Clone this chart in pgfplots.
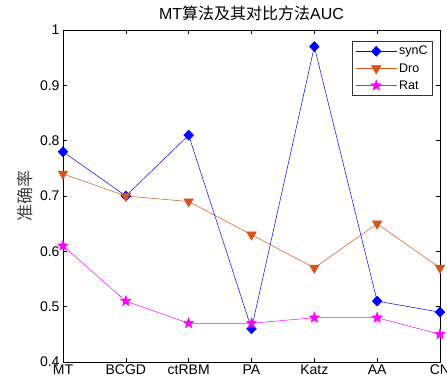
\documentclass[border=0pt]{standalone}
\usepackage{pgfplots}
\pgfplotsset{compat=1.18}
\usepackage{fontspec}
\setmainfont{Liberation Sans}
\newfontfamily\cjk{Noto Sans CJK SC}
\definecolor{mblue}{rgb}{0,0,1}
\definecolor{morange}{rgb}{0.85,0.325,0.098}
\definecolor{mmag}{rgb}{1,0,1}
\pgfdeclareplotmark{fstar}{%
  \pgfpathmoveto{\pgfpointpolar{90}{\pgfplotmarksize}}%
  \pgfpathlineto{\pgfpointpolar{126}{0.42\pgfplotmarksize}}%
  \pgfpathlineto{\pgfpointpolar{162}{\pgfplotmarksize}}%
  \pgfpathlineto{\pgfpointpolar{198}{0.42\pgfplotmarksize}}%
  \pgfpathlineto{\pgfpointpolar{234}{\pgfplotmarksize}}%
  \pgfpathlineto{\pgfpointpolar{270}{0.42\pgfplotmarksize}}%
  \pgfpathlineto{\pgfpointpolar{306}{\pgfplotmarksize}}%
  \pgfpathlineto{\pgfpointpolar{342}{0.42\pgfplotmarksize}}%
  \pgfpathlineto{\pgfpointpolar{18}{\pgfplotmarksize}}%
  \pgfpathlineto{\pgfpointpolar{54}{0.42\pgfplotmarksize}}%
  \pgfpathclose\pgfusepathqfillstroke}
\begin{document}
\begin{tikzpicture}
\begin{axis}[
  at={(0,0)}, anchor=south west,
  scale only axis, width=377pt, height=332pt,
  xmin=0, xmax=6, ymin=0.4, ymax=1,
  xtick={0,1,2,3,4,5,6},
  xticklabels={MT,BCGD,ctRBM,PA,Katz,AA,CN},
  ytick={0.4,0.5,0.6,0.7,0.8,0.9,1},
  yticklabels={0.4,0.5,0.6,0.7,0.8,0.9,1},
  tick align=inside, major tick length=4pt,
  tick style={black, line width=0.5pt},
  axis line style={line width=0.6pt},
  ticklabel style={font=\fontsize{14}{16}\selectfont},
  xticklabel style={yshift=1pt},
  title={MT{\cjk 算法及其对比方法}AUC},
  title style={font=\fontsize{16}{18}\selectfont, at={(axis description cs:0.5,1)}, anchor=south, yshift=0pt},
  ylabel={\cjk 准确率},
  ylabel style={font=\fontsize{17}{19}\selectfont\color{black!75}, at={(axis description cs:-0.1,0.5)}, anchor=center},
  legend style={at={(axis description cs:0.981,0.967)}, anchor=north east,
    font=\fontsize{12.5}{14}\selectfont, draw=black!80, line width=0.5pt,
    inner xsep=3pt, inner ysep=3pt, row sep=3pt, cells={anchor=west}},
  legend image code/.code={\draw[#1] (0cm,0cm) -- (1.45cm,0cm);
    \draw[#1, mark repeat=2, mark phase=2] plot coordinates {(0cm,0cm) (0.725cm,0cm) (1.45cm,0cm)};},
]
\addplot[mblue, line width=0.5pt, mark=diamond*, mark size=5pt, mark options={xscale=1.3, fill=mblue, draw=mblue}]
  coordinates {(0,0.78) (1,0.70) (2,0.81) (3,0.46) (4,0.97) (5,0.51) (6,0.49)};
\addlegendentry{synC}
\addplot[morange, line width=0.5pt, mark=triangle*, mark size=5.5pt, mark options={rotate=180, fill=morange, draw=morange}]
  coordinates {(0,0.74) (1,0.70) (2,0.69) (3,0.63) (4,0.57) (5,0.65) (6,0.57)};
\addlegendentry{Dro}
\addplot[mmag, line width=0.5pt, mark=fstar, mark size=5.5pt, mark options={fill=mmag, draw=mmag}]
  coordinates {(0,0.61) (1,0.51) (2,0.47) (3,0.47) (4,0.48) (5,0.48) (6,0.45)};
\addlegendentry{Rat}
\end{axis}
\pgfresetboundingbox
\path[use as bounding box] (-63pt,-25pt) rectangle (384pt,362pt);
\end{tikzpicture}
\end{document}
